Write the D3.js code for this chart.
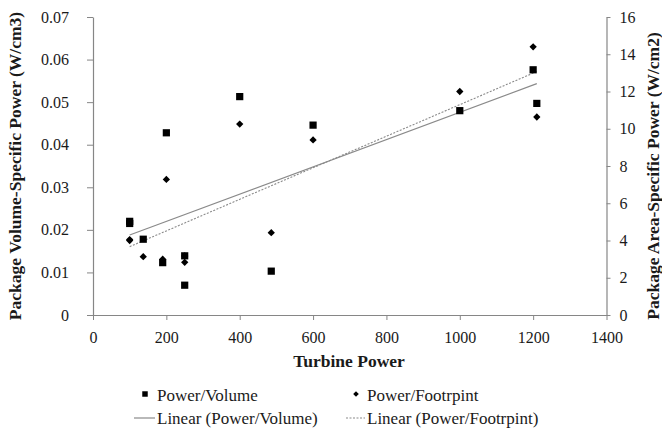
<!DOCTYPE html>
<html>
<head>
<meta charset="utf-8">
<script src="https://cdn.jsdelivr.net/npm/d3@7"></script>
<style>
  body { margin: 0; background: #fff; }
</style>
</head>
<body>
<div id="chart"></div>
<script>
// Power/Volume (left axis, W/cm3)
const volPower = [100, 100, 137, 190, 200, 250, 250, 400, 486, 600, 1000, 1200, 1210];
const volValue = [0.022, 0.0215, 0.0178, 0.0123, 0.0428, 0.0139, 0.007, 0.0513, 0.0103, 0.0446, 0.048, 0.0576, 0.0497];
// Power/Footprint (right axis, W/cm2)
const footPower = [100, 100, 137, 190, 200, 250, 250, 400, 486, 600, 1000, 1200, 1210];
const footValue = [4.05, 4.0, 3.13, 3.0, 7.28, 2.83, 3.17, 10.25, 4.42, 9.4, 12.0, 14.4, 10.63];

const xTicks = [0, 200, 400, 600, 800, 1000, 1200, 1400];
const leftTicks = [0, 0.01, 0.02, 0.03, 0.04, 0.05, 0.06, 0.07];
const rightTicks = [0, 2, 4, 6, 8, 10, 12, 14, 16];

const FONT = "Liberation Serif";
const AXIS_COLOR = "#868686";
const TEXT_COLOR = "#1a1a1a";

const W = 662, H = 428;
const margin = { top: 17, left: 93 };
const width = 606.5 - margin.left;
const height = 315 - margin.top;

const svgRoot = d3.select("#chart")
    .append("svg")
    .attr("width", W)
    .attr("height", H)
    .attr("font-family", FONT);
const svg = svgRoot.append("g")
    .attr("transform", `translate(${margin.left},${margin.top})`);

const x = d3.scaleLinear().domain([0, 1400]).range([0, width]);
const yL = d3.scaleLinear().domain([0, 0.07]).range([height, 0]);
const yR = d3.scaleLinear().domain([0, 16]).range([height, 0]);

function styleAxis(g) {
    g.attr("font-family", FONT).attr("font-size", 16);
    g.selectAll("path, line").attr("stroke", AXIS_COLOR);
    g.select(".domain").attr("stroke-width", 1.2);
    g.selectAll("text").attr("fill", TEXT_COLOR).attr("font-family", FONT);
}

svg.append("g")
    .attr("transform", `translate(0,${height})`)
    .call(d3.axisBottom(x).tickValues(xTicks).tickFormat(d3.format("d"))
        .tickSize(5).tickSizeOuter(0).tickPadding(12))
    .call(styleAxis);

svg.append("g")
    .call(d3.axisLeft(yL).tickValues(leftTicks).tickFormat(d => d === 0 ? "0" : d3.format(".2f")(d))
        .tickSize(6).tickSizeOuter(0).tickPadding(18))
    .call(styleAxis);

svg.append("g")
    .attr("transform", `translate(${width},0)`)
    .call(d3.axisRight(yR).tickValues(rightTicks)
        .tickSize(4).tickSizeOuter(0).tickPadding(9))
    .call(styleAxis);

// least squares fit
function fit(xs, ys) {
    const mx = d3.mean(xs), my = d3.mean(ys);
    const sxy = d3.sum(xs, (v, i) => (v - mx) * (ys[i] - my));
    const sxx = d3.sum(xs, v => (v - mx) * (v - mx));
    const b = sxy / sxx;
    return { a: my - b * mx, b };
}

const vf = fit(volPower, volValue);
const ff = fit(footPower, footValue);

svg.append("path")
    .datum(d3.extent(volPower))
    .attr("fill", "none")
    .attr("stroke", "#8a8a8a")
    .attr("stroke-width", 1.2)
    .attr("d", d3.line().x(d => x(d)).y(d => yL(vf.a + vf.b * d)));

svg.append("path")
    .datum(d3.extent(footPower))
    .attr("fill", "none")
    .attr("stroke", "#8a8a8a")
    .attr("stroke-width", 1.1)
    .attr("stroke-dasharray", "2,1.5")
    .attr("d", d3.line().x(d => x(d)).y(d => yR(ff.a + ff.b * d)));

// markers
const square = d3.symbol().type(d3.symbolSquare).size(52);
const diamond = d3.symbol().type(d3.symbolDiamond2).size(34);

svg.selectAll(".sq")
    .data(volPower.map((p, i) => ({ p, v: volValue[i] })))
    .enter().append("path")
    .attr("class", "sq")
    .attr("d", square)
    .attr("fill", "#000")
    .attr("transform", d => `translate(${x(d.p)},${yL(d.v)})`);

svg.selectAll(".dm")
    .data(footPower.map((p, i) => ({ p, v: footValue[i] })))
    .enter().append("path")
    .attr("class", "dm")
    .attr("d", diamond)
    .attr("fill", "#000")
    .attr("transform", d => `translate(${x(d.p)},${yR(d.v)})`);

// titles
function title(t) {
    return svgRoot.append("text")
        .attr("font-family", FONT)
        .attr("font-size", 17.5)
        .attr("font-weight", "bold")
        .attr("fill", TEXT_COLOR)
        .attr("text-anchor", "middle")
        .text(t);
}
title("Turbine Power").attr("x", 349).attr("y", 367);
title("Package Volume-Specific Power (W/cm3)").attr("transform", "translate(21,166) rotate(-90)");
title("Package Area-Specific Power (W/cm2)").attr("transform", "translate(659,176) rotate(-90)");

// legend
const legend = svgRoot.append("g").attr("font-family", FONT).attr("font-size", 17).attr("fill", TEXT_COLOR);
legend.append("path").attr("d", d3.symbol().type(d3.symbolSquare).size(30))
    .attr("transform", "translate(145,394)").attr("fill", "#000");
legend.append("text").attr("x", 157).attr("y", 395).attr("dy", "0.35em").text("Power/Volume");
legend.append("path").attr("d", d3.symbol().type(d3.symbolDiamond2).size(20))
    .attr("transform", "translate(356,394)").attr("fill", "#000");
legend.append("text").attr("x", 367).attr("y", 395).attr("dy", "0.35em").text("Power/Footrpint");

legend.append("line").attr("x1", 134).attr("x2", 155).attr("y1", 418).attr("y2", 418)
    .attr("stroke", "#8a8a8a").attr("stroke-width", 1.2);
legend.append("text").attr("x", 157).attr("y", 418).attr("dy", "0.35em").text("Linear (Power/Volume)");
legend.append("line").attr("x1", 346).attr("x2", 365).attr("y1", 418).attr("y2", 418)
    .attr("stroke", "#8a8a8a").attr("stroke-width", 1.1).attr("stroke-dasharray", "2,1.5");
legend.append("text").attr("x", 367).attr("y", 418).attr("dy", "0.35em").text("Linear (Power/Footrpint)");
</script>
</body>
</html>
